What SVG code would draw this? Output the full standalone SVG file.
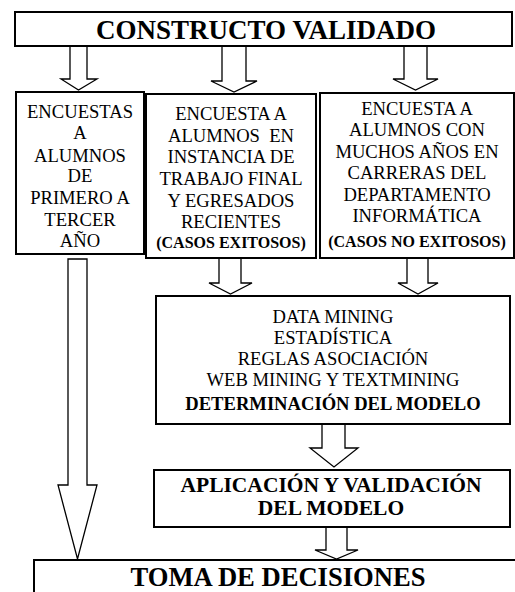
<svg xmlns="http://www.w3.org/2000/svg" width="515" height="592" viewBox="0 0 515 592">
<style>
.box{fill:#fff;stroke:#000;stroke-width:2}
.arr{fill:#fff;stroke:#000;stroke-width:1.3;stroke-linejoin:miter}
text{font-family:"Liberation Serif","Times New Roman",serif;fill:#000;text-anchor:middle}
.r{font-size:18.6px}
.b{font-weight:bold}
</style>
<rect width="515" height="592" fill="#fff"/>
<g id="connectors">
<polygon class="arr" points="70,46 87,46 87,79 97,79 78.5,90 61,79 70,79"/>
<polygon class="arr" points="222,46 246,46 246,81 257,81 234,92 211,81 222,81"/>
<polygon class="arr" points="404,46 427,46 427,79 438,79 415.5,90 393,79 404,79"/>
<polygon class="arr" points="219,258 241,258 241,283 252,283 230.5,294 209,283 219,283"/>
<polygon class="arr" points="407,258 428,258 428,283 438,283 418,294 398,283 407,283"/>
<polygon class="arr" points="322,424 345,424 345,448 358,448 334,467 310,448 322,448"/>
<polygon class="arr" points="326,527 347,527 347,550 358,550 336.5,559 315,550 326,550"/>
<polygon class="arr" points="68,259 87,259 87,485 97,485 77.5,559 58,485 68,485"/>
</g>
<g id="constructo">
<rect class="box" x="15" y="12" width="497" height="34"/>
<text class="b" x="266" y="39" font-size="27">CONSTRUCTO VALIDADO</text>
</g>
<g id="encuestas-primero">
<rect class="box" x="16" y="92" width="128" height="162"/>
<text class="r" x="80" y="118">ENCUESTAS</text>
<text class="r" x="80" y="139">A</text>
<text class="r" x="80" y="161.5">ALUMNOS</text>
<text class="r" x="80" y="182">DE</text>
<text class="r" x="80" y="204">PRIMERO A</text>
<text class="r" x="80" y="226">TERCER</text>
<text class="r" x="80" y="247">AÑO</text>
</g>
<g id="encuesta-exitosos">
<rect class="box" x="146" y="94" width="170" height="164"/>
<text class="r" x="231" y="120">ENCUESTA A</text>
<text class="r" x="231" y="141.5" xml:space="preserve">ALUMNOS  EN</text>
<text class="r" x="231" y="163">INSTANCIA DE</text>
<text class="r" x="231" y="185">TRABAJO FINAL</text>
<text class="r" x="231" y="206.5">Y EGRESADOS</text>
<text class="r" x="231" y="228">RECIENTES</text>
<text class="b" x="231" y="248" font-size="16">(CASOS EXITOSOS)</text>
</g>
<g id="encuesta-no-exitosos">
<rect class="box" x="320" y="93" width="194" height="165"/>
<text class="r" x="417" y="115">ENCUESTA A</text>
<text class="r" x="417" y="136">ALUMNOS CON</text>
<text class="r" x="417" y="157.5">MUCHOS AÑOS EN</text>
<text class="r" x="417" y="179">CARRERAS DEL</text>
<text class="r" x="417" y="200.5">DEPARTAMENTO</text>
<text class="r" x="417" y="221.5">INFORMÁTICA</text>
<text class="b" x="417" y="246.5" font-size="16">(CASOS NO EXITOSOS)</text>
</g>
<g id="modelo">
<rect class="box" x="156" y="296" width="354" height="128"/>
<text class="r" x="333" y="323">DATA MINING</text>
<text class="r" x="333" y="343.5">ESTADÍSTICA</text>
<text class="r" x="333" y="364.5">REGLAS ASOCIACIÓN</text>
<text class="r" x="333" y="385.5">WEB MINING Y TEXTMINING</text>
<text class="r b" x="333" y="409.5" font-size="18.8">DETERMINACIÓN DEL MODELO</text>
</g>
<g id="aplicacion">
<rect class="box" x="154" y="470" width="356" height="57"/>
<text class="b" x="331" y="492" font-size="21.5">APLICACIÓN Y VALIDACIÓN</text>
<text class="b" x="331" y="515" font-size="21.5">DEL MODELO</text>
</g>
<g id="toma">
<rect class="box" x="34" y="560" width="490" height="40"/>
<text class="b" x="278" y="586" font-size="26.6">TOMA DE DECISIONES</text>
</g>
</svg>
